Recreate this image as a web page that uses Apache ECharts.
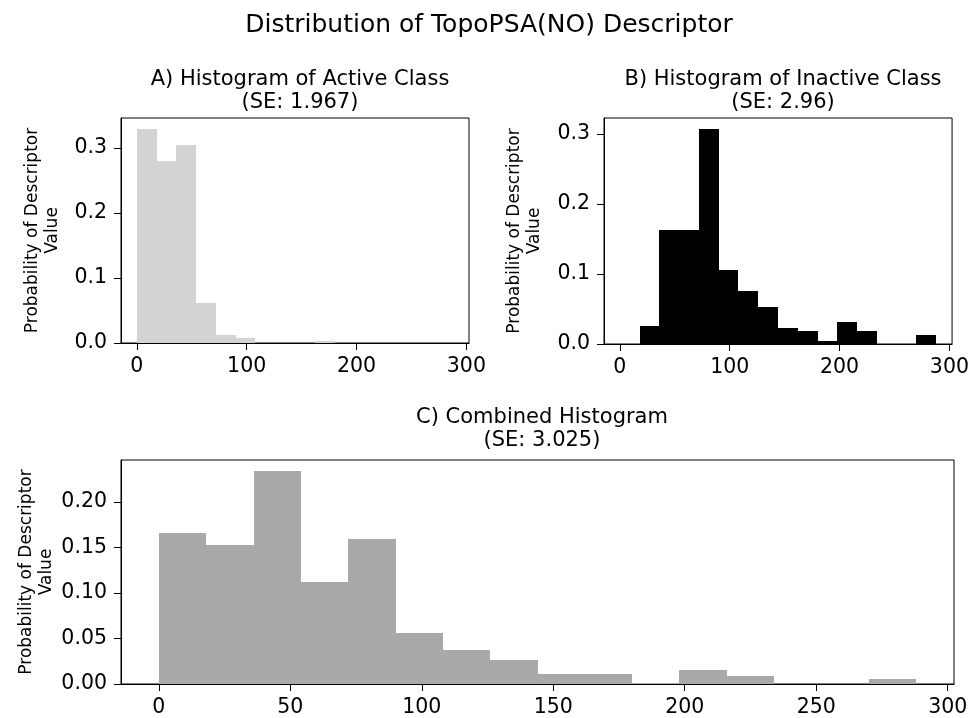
<!DOCTYPE html>
<html>
<head>
<meta charset="utf-8">
<script src="https://cdn.jsdelivr.net/npm/echarts@6/dist/echarts.min.js"></script>
<style>
  html, body { margin: 0; padding: 0; background: #fff; }
  #main { width: 972px; height: 718px; }
</style>
</head>
<body>
<div id="main"></div>
<script>
// histogram bin edges (shared by all three panels)
const binEdges = [0, 18, 36, 54, 72, 90, 108, 126, 144, 162, 180, 198, 216, 234, 252, 270, 288];
// probability per bin
const activeProb = [0.3297, 0.2795, 0.3041, 0.0621, 0.0118, 0.0072, 0, 0, 0, 0.0036, 0, 0, 0, 0, 0, 0];
const inactiveProb = [0, 0.0258, 0.1627, 0.1627, 0.3077, 0.1062, 0.0751, 0.0531, 0.0230, 0.0187, 0.0048, 0.0316, 0.0187, 0, 0, 0.0134];
const combinedProb = [0.1658, 0.1526, 0.2342, 0.1122, 0.1596, 0.0561, 0.0372, 0.0262, 0.0106, 0.0106, 0.0015, 0.0149, 0.0084, 0, 0, 0.0058];
// tick labels
const xTicksSmall = [0, 100, 200, 300];
const xTicksWide = [0, 50, 100, 150, 200, 250, 300];
const yTicksA = [0, 0.1, 0.2, 0.3];
const yTicksB = [0, 0.1, 0.2, 0.3];
const yTicksC = [0, 0.05, 0.10, 0.15, 0.20];

const FONT = 'DejaVu Sans';
const yName = 'Probability of Descriptor\nValue';

function toBins(probs) {
  return probs.map((p, i) => [binEdges[i], binEdges[i + 1], p]).filter(d => d[2] > 0);
}

// one rect per bin, snapped to whole pixels so neighbours don't show seams
function renderBin(params, api) {
  const p0 = api.coord([api.value(0), api.value(2)]);
  const p1 = api.coord([api.value(1), 0]);
  const x0 = Math.round(p0[0]), x1 = Math.round(p1[0]);
  const y0 = Math.round(p0[1]), y1 = Math.round(p1[1]);
  return {
    type: 'rect',
    shape: { x: x0, y: y0, width: x1 - x0, height: y1 - y0 },
    style: { fill: api.visual('color') }
  };
}

function xAxisFor(idx, ticks) {
  return {
    type: 'value', gridIndex: idx, min: -14.4, max: 302.4,
    splitLine: { show: false },
    axisLine: { show: true, onZero: false, lineStyle: { color: '#000', width: 1 } },
    axisTick: { show: true, length: 7, lineStyle: { color: '#000' }, customValues: ticks },
    axisLabel: { color: '#000', fontSize: 20.5, fontFamily: FONT, margin: 13, customValues: ticks }
  };
}

function yAxisFor(idx, ticks, max, digits, gap) {
  return {
    type: 'value', gridIndex: idx, min: 0, max: max,
    name: yName, nameLocation: 'middle', nameRotate: 90, nameGap: gap, nameMoveOverlap: false,
    nameTextStyle: { color: '#000', fontSize: 17, fontFamily: FONT, lineHeight: 20 },
    splitLine: { show: false },
    axisLine: { show: true, onZero: false, lineStyle: { color: '#000', width: 1 } },
    axisTick: { show: true, length: 7, lineStyle: { color: '#000' }, customValues: ticks },
    axisLabel: {
      color: '#000', fontSize: 20.5, fontFamily: FONT, margin: 14, customValues: ticks,
      formatter: v => v.toFixed(digits)
    }
  };
}

const subTitle = { color: '#000', fontSize: 21, fontFamily: FONT, fontWeight: 'normal', lineHeight: 23 };

const chart = echarts.init(document.getElementById('main'));
chart.setOption({
  animation: false,
  backgroundColor: '#fff',
  title: [
    { text: 'Distribution of TopoPSA(NO) Descriptor', left: 484, top: 8, textAlign: 'center',
      textStyle: { color: '#000', fontSize: 25, fontFamily: FONT, fontWeight: 'normal' } },
    { text: 'A) Histogram of Active Class\n(SE: 1.967)', left: 295, top: 63, textAlign: 'center', textStyle: subTitle },
    { text: 'B) Histogram of Inactive Class\n(SE: 2.96)', left: 778, top: 63, textAlign: 'center', textStyle: subTitle },
    { text: 'C) Combined Histogram\n(SE: 3.025)', left: 537, top: 401, textAlign: 'center', textStyle: subTitle }
  ],
  grid: [
    { left: 121, top: 118, width: 348, height: 225, show: true, borderColor: '#000', borderWidth: 1, backgroundColor: 'transparent' },
    { left: 604, top: 118, width: 349, height: 226, show: true, borderColor: '#000', borderWidth: 1, backgroundColor: 'transparent' },
    { left: 121, top: 460, width: 833, height: 225, show: true, borderColor: '#000', borderWidth: 1, backgroundColor: 'transparent' }
  ],
  xAxis: [xAxisFor(0, xTicksSmall), xAxisFor(1, xTicksSmall), xAxisFor(2, xTicksWide)],
  yAxis: [
    yAxisFor(0, yTicksA, 0.3462, 1, 58),
    yAxisFor(1, yTicksB, 0.3231, 1, 59),
    yAxisFor(2, yTicksC, 0.2459, 2, 64)
  ],
  series: [
    { type: 'custom', xAxisIndex: 0, yAxisIndex: 0, renderItem: renderBin, data: toBins(activeProb),
      itemStyle: { color: '#d3d3d3' }, encode: { x: [0, 1], y: 2 } },
    { type: 'custom', xAxisIndex: 1, yAxisIndex: 1, renderItem: renderBin, data: toBins(inactiveProb),
      itemStyle: { color: '#000000' }, encode: { x: [0, 1], y: 2 } },
    { type: 'custom', xAxisIndex: 2, yAxisIndex: 2, renderItem: renderBin, data: toBins(combinedProb),
      itemStyle: { color: '#a9a9a9' }, encode: { x: [0, 1], y: 2 } }
  ]
});
</script>
</body>
</html>
